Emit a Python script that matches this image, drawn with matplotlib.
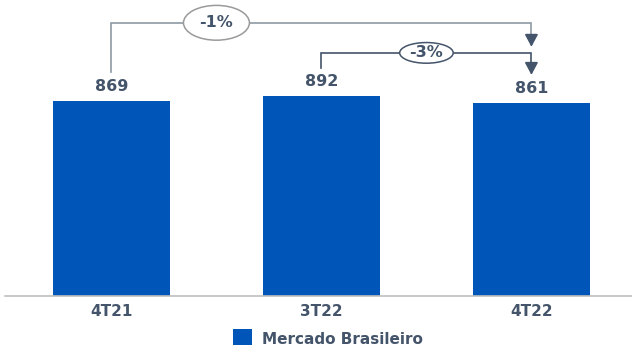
import matplotlib.pyplot as plt
from matplotlib.patches import Ellipse, Rectangle

quarters = ["4T21", "3T22", "4T22"]
volumes = [869, 892, 861]
changes = ["-1%", "-3%"]
series_name = "Mercado Brasileiro"

bar_color = "#0055B8"
text_color = "#44546A"

fig = plt.figure(figsize=(6.32, 3.47), dpi=100)
ax = fig.add_axes([5 / 632, 51 / 347, 627 / 632, 286 / 347])

x = range(len(quarters))
ax.bar(x, volumes, width=0.557, color=bar_color, zorder=2)
ax.set_xlim(-0.507, 2.479)
ax.set_ylim(0, 1274)

for i, v in zip(x, volumes):
    ax.annotate(str(v), (i, v), xytext=(0, 5), textcoords="offset points",
                ha="center", va="bottom", fontsize=11.5, fontweight="bold",
                color=text_color)

for side in ["top", "right", "left"]:
    ax.spines[side].set_visible(False)
ax.spines["bottom"].set_color("#BFBFBF")
ax.spines["bottom"].set_linewidth(1.2)
ax.set_yticks([])
ax.set_xticks(list(x))
ax.set_xticklabels(quarters, fontsize=11, fontweight="bold", color=text_color)
ax.tick_params(axis="x", length=0, pad=6)


def bracket(x0, x1, xm, y_start, y_top, y_tip, label, color, ecolor, ew, eh):
    ax.plot([x0, x0, x1, x1], [y_start, y_top, y_top, y_tip + 40],
            color=color, lw=1.2, zorder=3, solid_joinstyle="miter",
            clip_on=False)
    # arrow head always in the dark tone
    ax.annotate("", xy=(x1, y_tip), xytext=(x1, y_tip + 45),
                arrowprops=dict(arrowstyle="-|>,head_length=0.75,head_width=0.4",
                                color=text_color, lw=1.2, shrinkA=0, shrinkB=0),
                zorder=3, annotation_clip=False)
    ax.add_patch(Ellipse((xm, y_top), ew, eh, facecolor="white",
                         edgecolor=ecolor, lw=1.1, zorder=4, clip_on=False))
    ax.text(xm, y_top, label, ha="center", va="center", fontsize=11.5,
            fontweight="bold", color=text_color, zorder=5)


# percentage label sits halfway between neighbouring bars
bracket(0, 2, 0.5, 998, 1217, 1110, changes[0], "#8C9AA3", "#9A9A9A",
        0.314, 155)
bracket(1, 2, 1.5, 1016, 1083, 985, changes[1], "#44546A", "#44546A",
        0.255, 92)

# legend
fig.patches.append(Rectangle((233 / 632, 1 - 345 / 347), 19 / 632, 16 / 347,
                             transform=fig.transFigure, facecolor=bar_color,
                             edgecolor="none"))
fig.text(262 / 632, 1 - 339 / 347, series_name, ha="left", va="center",
         fontsize=11, fontweight="bold", color=text_color)

fig.savefig("out.png", dpi=100)
